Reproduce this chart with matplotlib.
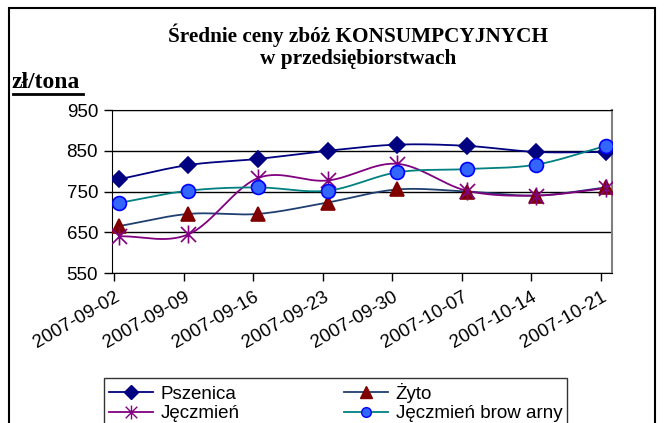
import numpy as np
import matplotlib
matplotlib.use("Agg")
import matplotlib.pyplot as plt
from matplotlib.patches import Rectangle
from matplotlib.lines import Line2D
from matplotlib.path import Path

dates = ["2007-09-02", "2007-09-09", "2007-09-16", "2007-09-23",
         "2007-09-30", "2007-10-07", "2007-10-14", "2007-10-21"]
pszenica = [780, 815, 830, 850, 865, 862, 847, 847]
zyto = [665, 695, 695, 723, 755, 750, 740, 760]
jeczmien = [640, 645, 783, 777, 818, 752, 740, 758]
browarny = [722, 752, 760, 752, 797, 805, 816, 862]
yticks = [550, 650, 750, 850, 950]

W, H = 665, 423
fig = plt.figure(figsize=(W / 100, H / 100), dpi=100)
ax = fig.add_axes([112 / W, 1 - 273 / H, (612 - 112) / W, (273 - 110) / H])

def smooth(x, y, n=30):
    x = np.asarray(x, float); y = np.asarray(y, float)
    px = np.concatenate([[2 * x[0] - x[1]], x, [2 * x[-1] - x[-2]]])
    py = np.concatenate([[2 * y[0] - y[1]], y, [2 * y[-1] - y[-2]]])
    xs, ys = [], []
    for i in range(1, len(px) - 2):
        t = np.linspace(0, 1, n, endpoint=False)
        for arr, out in ((px, xs), (py, ys)):
            p0, p1, p2, p3 = arr[i - 1], arr[i], arr[i + 1], arr[i + 2]
            out.extend(0.5 * ((2 * p1) + (-p0 + p2) * t +
                              (2 * p0 - 5 * p1 + 4 * p2 - p3) * t ** 2 +
                              (-p0 + 3 * p1 - 3 * p2 + p3) * t ** 3))
    xs.append(x[-1]); ys.append(y[-1])
    return np.array(xs), np.array(ys)

star = Path([(-1, -1), (1, 1), (-1, 1), (1, -1), (0, -1.2), (0, 1.2)],
            [Path.MOVETO, Path.LINETO, Path.MOVETO, Path.LINETO, Path.MOVETO, Path.LINETO])

xpos = np.arange(len(dates)) + 0.07

series = [
    ("Pszenica", pszenica, "#000080", "D", "#000080", "#000080", 8, 7),
    ("Żyto", zyto, "#1F3F6F", "^", "#800000", "#800000", 10, 9),
    ("Jęczmień", jeczmien, "#800080", star, "#800080", "#800080", 13, 10),
    ("Jęczmień brow arny", browarny, "#008080", "o", "#3366FF", "#0000FF", 10, 7),
]
handles = {}
for name, vals, lc, mk, mfc, mec, ms, lms in series:
    sx, sy = smooth(xpos, vals)
    ax.plot(sx, sy, color=lc, lw=1.3, zorder=3)
    ax.plot(xpos, vals, ls="none", marker=mk, markersize=ms, markerfacecolor=mfc,
            markeredgecolor=mec, markeredgewidth=1.2, zorder=4)
    handles[name] = Line2D([], [], color=lc, lw=1.3, marker=mk,
                           markersize=lms, markerfacecolor=mfc,
                           markeredgecolor=mec, markeredgewidth=1.0)

ax.set_ylim(550, 950)
ax.set_xlim(-0.03, 7.16)
ax.set_yticks(yticks)
ax.set_yticklabels([str(v) for v in yticks], fontfamily="Liberation Sans", fontsize=13.5)
ax.set_xticks(np.arange(len(dates)))
ax.set_xticklabels(dates, rotation=30, ha="right", rotation_mode="anchor",
                   fontfamily="Liberation Sans", fontsize=13.5)
ax.tick_params(axis="both", direction="out", length=6, width=1, color="black")
ax.tick_params(axis="y", pad=4)
ax.tick_params(axis="x", pad=5)
ax.yaxis.grid(True, color="black", lw=1)
ax.set_axisbelow(True)
for s in ("left", "bottom", "top"):
    ax.spines[s].set_color("black")
ax.spines["right"].set_color("#808080")
ax.spines["right"].set_linewidth(1.5)

fig.text(358 / W, 1 - 42 / H, "Średnie ceny zbóż KONSUMPCYJNYCH", ha="center", va="baseline",
         fontfamily="Liberation Serif", fontweight="bold", fontsize=15.3)
fig.text(358 / W, 1 - 64 / H, "w przedsiębiorstwach", ha="center", va="baseline",
         fontfamily="Liberation Serif", fontweight="bold", fontsize=15.3)
fig.text(12 / W, 1 - 88 / H, "zł/tona", ha="left", va="baseline",
         fontfamily="Liberation Serif", fontweight="bold", fontsize=17)
fig.add_artist(Line2D([13 / W, 83 / W], [1 - 94 / H, 1 - 94 / H], color="black", lw=2))

fig.add_artist(Rectangle((8.5 / W, -0.1), (655 - 8.5) / W, 1.1 - 8.5 / H, fill=False,
                         edgecolor="black", lw=1.5, transform=fig.transFigure))

order = ["Pszenica", "Jęczmień", "Żyto", "Jęczmień brow arny"]
leg = fig.legend([handles[k] for k in order], order, ncol=2,
                 loc="upper left", bbox_to_anchor=(104 / W, 1 - 378 / H),
                 borderaxespad=0,
                 prop={"family": "Liberation Sans", "size": 13.5},
                 frameon=True, fancybox=False, edgecolor="black",
                 handlelength=2.35, columnspacing=5.6, borderpad=0.25,
                 labelspacing=0.12, handletextpad=0.4)
leg.get_frame().set_linewidth(1)

fig.savefig("out.png", dpi=100)
